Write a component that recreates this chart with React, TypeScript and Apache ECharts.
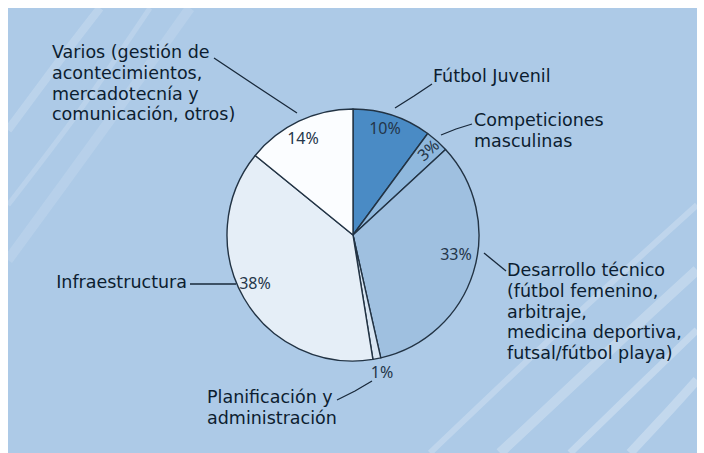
import React, { useEffect, useRef } from "react";
import * as echarts from "echarts";

// ---- data ----
const categories = [
  "Fútbol Juvenil",
  "Competiciones masculinas",
  "Desarrollo técnico (fútbol femenino, arbitraje, medicina deportiva, futsal/fútbol playa)",
  "Planificación y administración",
  "Infraestructura",
  "Varios (gestión de acontecimientos, mercadotecnía y comunicación, otros)",
];
const labelTexts = [
  "Fútbol Juvenil",
  "Competiciones\nmasculinas",
  "Desarrollo técnico\n(fútbol femenino,\narbitraje,\nmedicina deportiva,\nfutsal/fútbol playa)",
  "Planificación y\nadministración",
  "Infraestructura",
  "Varios (gestión de\nacontecimientos,\nmercadotecnía y\ncomunicación, otros)",
];
const shares = [10, 3, 33, 1, 38, 14];

// ---- styling ----
const sliceColors = ["#4a8bc5", "#8fb8dd", "#9fc0e0", "#d9e6f3", "#e5eef7", "#fbfdff"];
const CX = 353;
const CY = 235;
const R = 126;
const FONT = "'DejaVu Sans', 'Noto Sans', sans-serif";
const PFONT = "'Noto Sans', 'Open Sans', sans-serif";
const TEXT = "#0c1d30";

// name label placement (top-left of text block) and leader lines
const namePlace = [
  { x: 433, y: 66, line: [[432, 84], [414, 96], [395, 108]] },
  { x: 474, y: 110, line: [[472, 124], [456, 129], [441, 135]] },
  { x: 507, y: 260, line: [[506, 271], [495, 262], [484, 253]] },
  { x: 207, y: 387, line: [[337, 400], [355, 391], [372, 381]] },
  { x: 187, y: 272, line: [[190, 284], [213, 284], [236, 284]], right: true },
  { x: 52, y: 42, line: [[214, 58], [256, 86], [297, 113]] },
];
// percentage label centres
const pctPlace = [
  { x: 385, y: 128, rot: 0 },
  { x: 428, y: 150, rot: 42 },
  { x: 456, y: 254, rot: 0 },
  { x: 382, y: 372, rot: 0 },
  { x: 255, y: 283, rot: 0 },
  { x: 303, y: 138, rot: 0 },
];

export default function App() {
  const ref = useRef<HTMLDivElement>(null);
  useEffect(() => {
    document.body.style.margin = "0";
    const chart = echarts.init(ref.current!, null, { renderer: "svg" });
    const stripe = (pts: number[][], w: number, o: number) => ({
      type: "polyline",
      silent: true,
      shape: { points: pts, smooth: 0.3 },
      style: { stroke: "rgba(255,255,255," + o + ")", lineWidth: w, fill: null },
    });
    chart.setOption({
      animation: false,
      backgroundColor: "#ffffff",
      graphic: [
        {
          type: "group",
          silent: true,
          children: [
            { type: "rect", shape: { x: 8, y: 8, width: 689, height: 445 }, style: { fill: "#adcae7" } },
            stripe([[8, 130], [60, 60], [100, 8]], 8, 0.18),
            stripe([[8, 205], [80, 110], [150, 8]], 5, 0.16),
            stripe([[8, 260], [110, 120], [190, 8]], 10, 0.12),
            stripe([[430, 453], [560, 330], [697, 205]], 6, 0.22),
            stripe([[500, 453], [610, 350], [697, 270]], 10, 0.24),
            stripe([[570, 453], [640, 385], [697, 330]], 7, 0.27),
            stripe([[630, 453], [670, 410], [697, 380]], 9, 0.27),
          ],
        },
      ],
      series: [
        {
          type: "pie",
          center: [CX, CY],
          radius: R,
          startAngle: 90,
          clockwise: true,
          avoidLabelOverlap: false,
          silent: true,
          emphasis: { disabled: true },
          itemStyle: { borderColor: "#223344", borderWidth: 1.4 },
          data: categories.map((c, i) => ({
            name: c,
            value: shares[i],
            itemStyle: { color: sliceColors[i] },
          })),
          label: {
            show: true,
            position: "outside",
            formatter: (p: any) => labelTexts[p.dataIndex],
            fontFamily: FONT,
            fontSize: 17.5,
            lineHeight: 20.6,
            color: TEXT,
          },
          labelLine: { show: true, smooth: false, lineStyle: { color: "#18283a", width: 1.3 } },
          labelLayout: (p: any) => {
            const o: any = namePlace[p.dataIndex];
            return {
              x: o.x,
              y: o.y,
              align: o.right ? "right" : "left",
              verticalAlign: "top",
              labelLinePoints: o.line,
            };
          },
        },
        {
          type: "pie",
          center: [CX, CY],
          radius: R,
          startAngle: 90,
          clockwise: true,
          avoidLabelOverlap: false,
          silent: true,
          emphasis: { disabled: true },
          itemStyle: { color: "rgba(0,0,0,0)", borderWidth: 0 },
          data: categories.map((c, i) => ({ name: c, value: shares[i] })),
          label: {
            show: true,
            position: "inside",
            formatter: "{c}%",
            fontFamily: PFONT,
            fontSize: 16,
            color: "#24364a",
          },
          labelLine: { show: false },
          labelLayout: (p: any) => {
            const o = pctPlace[p.dataIndex];
            return { x: o.x, y: o.y, align: "center", verticalAlign: "middle", rotate: o.rot };
          },
        },
      ],
    });
    return () => chart.dispose();
  }, []);
  return <div ref={ref} style={{ width: 704, height: 453 }} />;
}
